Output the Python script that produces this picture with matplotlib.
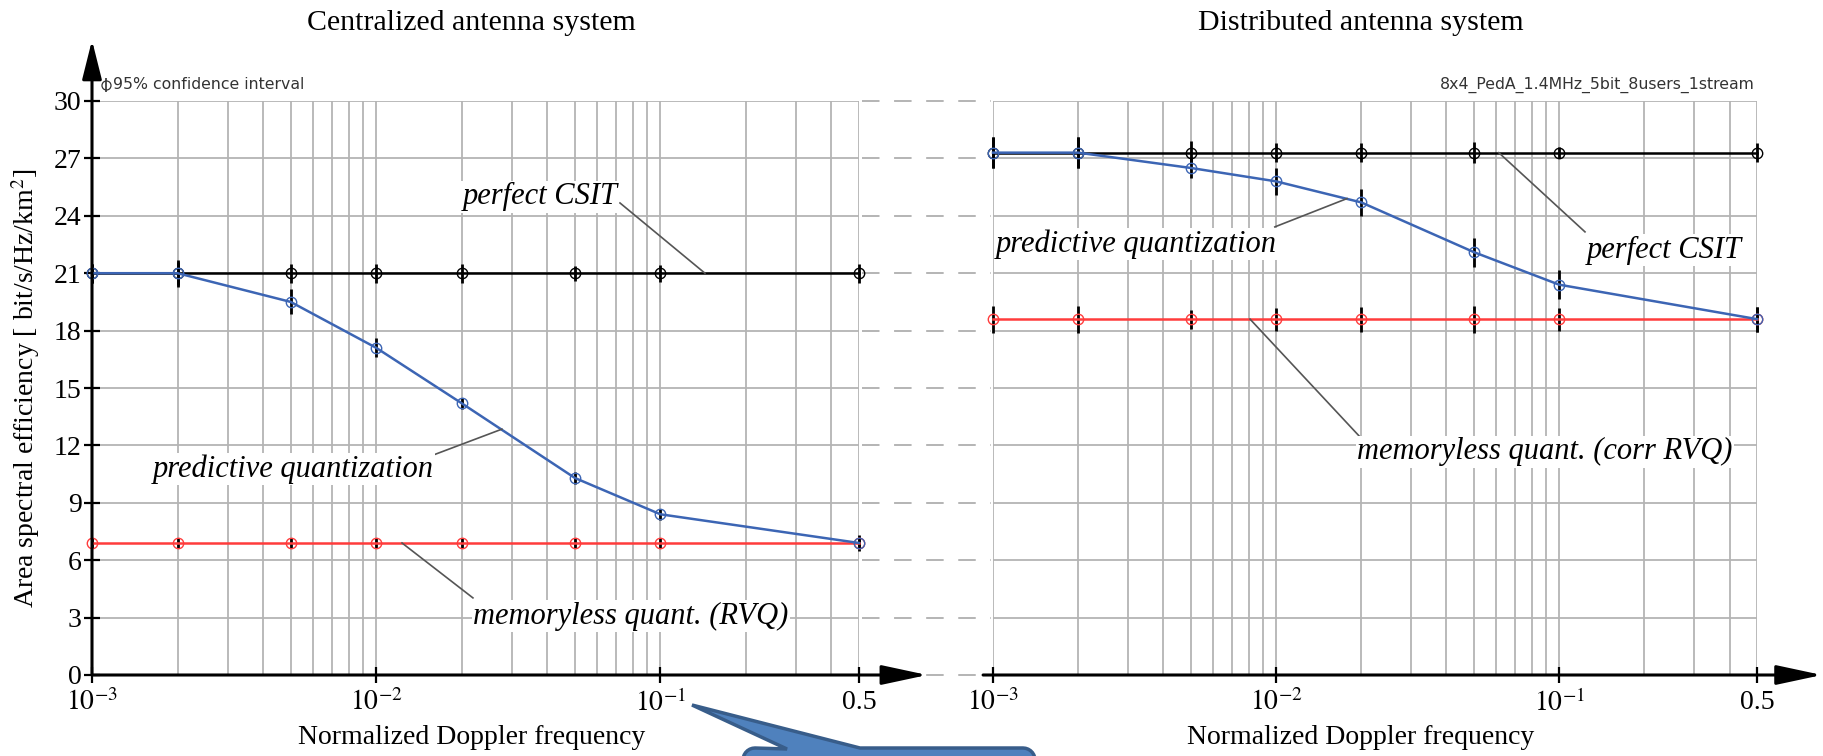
import numpy as np
import matplotlib
matplotlib.use("Agg")
import matplotlib.pyplot as plt
from matplotlib import transforms
from matplotlib.patches import Polygon

plt.rcParams['font.family'] = ['serif']
plt.rcParams['font.serif'] = ['Liberation Serif', 'DejaVu Serif']
plt.rcParams['mathtext.fontset'] = 'stix'

# normalized Doppler frequency
doppler = [0.001, 0.002, 0.005, 0.01, 0.02, 0.05, 0.1, 0.5]

# centralized antenna system
cas_perfect = [21.0, 21.0, 21.0, 21.0, 21.0, 21.0, 21.0, 21.0]
cas_perfect_ci = [0.5, 0.7, 0.5, 0.5, 0.5, 0.4, 0.45, 0.5]
cas_pred = [21.0, 21.0, 19.5, 17.1, 14.2, 10.3, 8.4, 6.9]
cas_pred_ci = [0.5, 0.6, 0.65, 0.5, 0.3, 0.3, 0.3, 0.4]
cas_rvq = [6.9, 6.9, 6.9, 6.9, 6.9, 6.9, 6.9, 6.9]
cas_rvq_ci = [0.25, 0.25, 0.25, 0.25, 0.25, 0.25, 0.25, 0.25]

# distributed antenna system
das_perfect = [27.3, 27.3, 27.3, 27.3, 27.3, 27.3, 27.3, 27.3]
das_perfect_ci = [0.8, 0.8, 0.6, 0.5, 0.5, 0.55, 0.3, 0.5]
das_pred = [27.3, 27.3, 26.5, 25.8, 24.7, 22.1, 20.4, 18.6]
das_pred_ci = [0.8, 0.8, 0.55, 0.7, 0.7, 0.75, 0.75, 0.65]
das_rvq = [18.6, 18.6, 18.6, 18.6, 18.6, 18.6, 18.6, 18.6]
das_rvq_ci = [0.7, 0.7, 0.5, 0.6, 0.65, 0.7, 0.6, 0.65]

yticks = [0, 3, 6, 9, 12, 15, 18, 21, 24, 27, 30]
xticks = [1e-3, 1e-2, 1e-1, 0.5]
xticklabels = ['$10^{-3}$', '$10^{-2}$', '$10^{-1}$', '0.5']

BLUE = '#3c65b4'
RED = '#ff3c3c'
GRID = '#b4b4b4'
W, H = 1824, 756

fig = plt.figure(figsize=(W / 100, H / 100), dpi=100)
ax1 = fig.add_axes([92 / W, 81 / H, 767 / W, 574 / H])
ax2 = fig.add_axes([993 / W, 81 / H, 764 / W, 574 / H])


def arrow(ax, start, end, hl):
    ax.annotate('', xy=end, xytext=start, xycoords='axes fraction',
                textcoords='axes fraction', annotation_clip=False,
                arrowprops=dict(arrowstyle='-|>,head_length=%g,head_width=0.3' % hl,
                                lw=2.2, color='k', shrinkA=0, shrinkB=0,
                                mutation_scale=20), zorder=6)


def setup(ax, left):
    ax.set_xscale('log')
    ax.set_xlim(1e-3, 0.5)
    ax.set_ylim(0, 30)
    for s in ax.spines.values():
        s.set_visible(False)
    ax.set_xticks(xticks)
    ax.set_xticklabels(xticklabels)
    ax.set_yticks(yticks)
    ax.grid(which='both', axis='x', color=GRID, lw=1.3)
    ax.grid(which='major', axis='y', color=GRID, lw=1.3)
    ax.tick_params(axis='x', which='major', direction='inout', length=11, width=1.6,
                   labelsize=20, pad=5)
    ax.tick_params(axis='x', which='minor', length=0)
    if left:
        ax.tick_params(axis='y', direction='inout', length=11, width=1.6,
                       labelsize=20, pad=2)
    else:
        ax.tick_params(axis='y', length=0, labelleft=False)
    ax.set_axisbelow(True)


def draw(ax, perfect, perfect_ci, pred, pred_ci, rvq, rvq_ci):
    for vals, ci, col in [(perfect, perfect_ci, 'black'), (rvq, rvq_ci, RED),
                          (pred, pred_ci, BLUE)]:
        eb = ax.errorbar(doppler, vals, yerr=ci, color=col, lw=1.8, marker='o', ms=7.5,
                         mfc='none', mec=col, mew=1.0, ecolor='black', elinewidth=2,
                         capsize=0, zorder=3)
        for art in eb.get_children():
            art.set_clip_on(False)


def label(ax, x, y, s, line):
    ax.plot(line[0], line[1], color='#555555', lw=1.2, zorder=4)
    ax.text(x, y, s, ha='center', va='center', fontsize=22, style='italic',
            bbox=dict(fc='white', ec='none', pad=1), zorder=5)


setup(ax1, True)
setup(ax2, False)
draw(ax1, cas_perfect, cas_perfect_ci, cas_pred, cas_pred_ci, cas_rvq, cas_rvq_ci)
draw(ax2, das_perfect, das_perfect_ci, das_pred, das_pred_ci, das_rvq, das_rvq_ci)

# axes arrows
arrow(ax1, (0, 0), (1.089, 0), 1.4)
arrow(ax1, (0, 0), (0, 1.106), 1.2)
arrow(ax2, (-0.013, 0), (1.085, 0), 1.4)

# dashed links between the two panels
trans = transforms.blended_transform_factory(fig.transFigure, ax1.transData)
for y in yticks:
    ax1.plot([862 / W, 991 / W], [y, y], transform=trans, color=GRID, lw=1.4,
             ls=(0, (9, 7.5)), clip_on=False, zorder=1)

label(ax1, 0.0377, 25.0, 'perfect CSIT', ([0.0721, 0.1435], [24.67, 21.0]))
label(ax1, 0.00509, 10.77, 'predictive quantization', ([0.0159, 0.0277], [11.5, 12.85]))
label(ax1, 0.0788, 3.08, 'memoryless quant. (RVQ)', ([0.0219, 0.01233], [4.03, 6.9]))
label(ax2, 0.0032, 22.53, 'predictive quantization', ([0.0099, 0.0178], [23.42, 24.9]))
label(ax2, 0.2345, 22.2, 'perfect CSIT', ([0.1234, 0.0612], [23.16, 27.3]))
label(ax2, 0.0891, 11.66, 'memoryless quant. (corr RVQ)', ([0.0198, 0.00809], [12.44, 18.6]))

# small info texts
ax1.plot([0.018], [1.028], transform=ax1.transAxes, marker='o', ms=6.5, mfc='none',
         mec='#333333', mew=0.9, clip_on=False)
ax1.plot([0.018], [1.028], transform=ax1.transAxes, marker='|', ms=10, mec='#333333',
         mew=1.2, clip_on=False)
ax1.text(0.028, 1.028, '95% confidence interval', transform=ax1.transAxes,
         family='DejaVu Sans', fontsize=11.3, va='center', ha='left', color='#333333')
ax2.text(0.997, 1.028, '8x4_PedA_1.4MHz_5bit_8users_1stream', transform=ax2.transAxes,
         family='DejaVu Sans', fontsize=11.3, va='center', ha='right', color='#333333')

# titles and axis labels
fig.text(471 / W, 1 - 23 / H, 'Centralized antenna system', ha='center', va='center',
         fontsize=21.5)
fig.text(1361 / W, 1 - 23 / H, 'Distributed antenna system', ha='center', va='center',
         fontsize=21.5)
fig.text(472 / W, 1 - 738 / H, 'Normalized Doppler frequency', ha='center', va='center',
         fontsize=20)
fig.text(1361 / W, 1 - 738 / H, 'Normalized Doppler frequency', ha='center', va='center',
         fontsize=20)
fig.text(26 / W, 1 - 388 / H, 'Area spectral efficiency [ bit/s/Hz/km$^2$]',
         rotation=90, ha='center', va='center', fontsize=20)

# blue callout at the bottom
def arc(cx, cy, r, a0, a1):
    t = np.radians(np.linspace(a0, a1, 8))
    return [(cx + r * np.cos(t_), cy + r * np.sin(t_)) for t_ in t]

pts = [(692, 705), (860, 748), (1023, 748)]
pts += arc(1023, 760, 12, -90, 0)
pts += [(1035, 800), (743, 800)]
pts += arc(755, 760, 12, 180, 270)
pts += [(787, 749)]
pts = [(x / W, 1 - y / H) for x, y in pts]
fig.add_artist(Polygon(pts, closed=True, transform=fig.transFigure, fc='#4f81bd',
                       ec='#385d8a', lw=2.5, zorder=10))

fig.savefig('out.png', dpi=100)
